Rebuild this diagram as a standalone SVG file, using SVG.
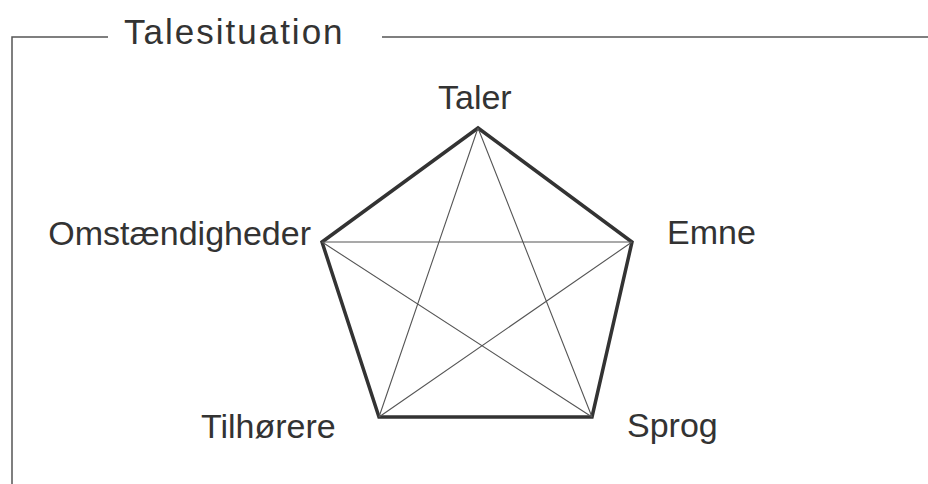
<svg xmlns="http://www.w3.org/2000/svg" width="928" height="484" viewBox="0 0 928 484">
<style>
.lbl{font-family:"Liberation Sans",Arial,sans-serif;font-size:34px;fill:#333}
.frame{stroke:#555;stroke-width:1.5;fill:none}
.edge{stroke:#333;stroke-width:3.5;fill:none;stroke-linejoin:miter}
.diag{stroke:#555;stroke-width:1.1;fill:none}
</style>
<rect width="928" height="484" fill="#fff"/>
<g id="frame">
<path class="frame" d="M12,484 V37 H108 M382,37 H928"/>
<text class="lbl" x="124" y="44" style="font-size:35px;letter-spacing:2px">Talesituation</text>
</g>
<g id="connectors">
<polygon class="edge" points="478,128 632,242 592,417 379,417 322,242"/>
<path class="diag" d="M478,128 L592,417 M478,128 L379,417 M322,242 L632,242 M322,242 L592,417 M632,242 L379,417"/>
</g>
<g id="taler"><text class="lbl" x="438" y="109">Taler</text></g>
<g id="emne"><text class="lbl" x="667" y="244">Emne</text></g>
<g id="sprog"><text class="lbl" x="627" y="437">Sprog</text></g>
<g id="tilhorere"><text class="lbl" x="201" y="438">Tilhørere</text></g>
<g id="omstaendigheder"><text class="lbl" x="311" y="245" text-anchor="end">Omstændigheder</text></g>
</svg>
